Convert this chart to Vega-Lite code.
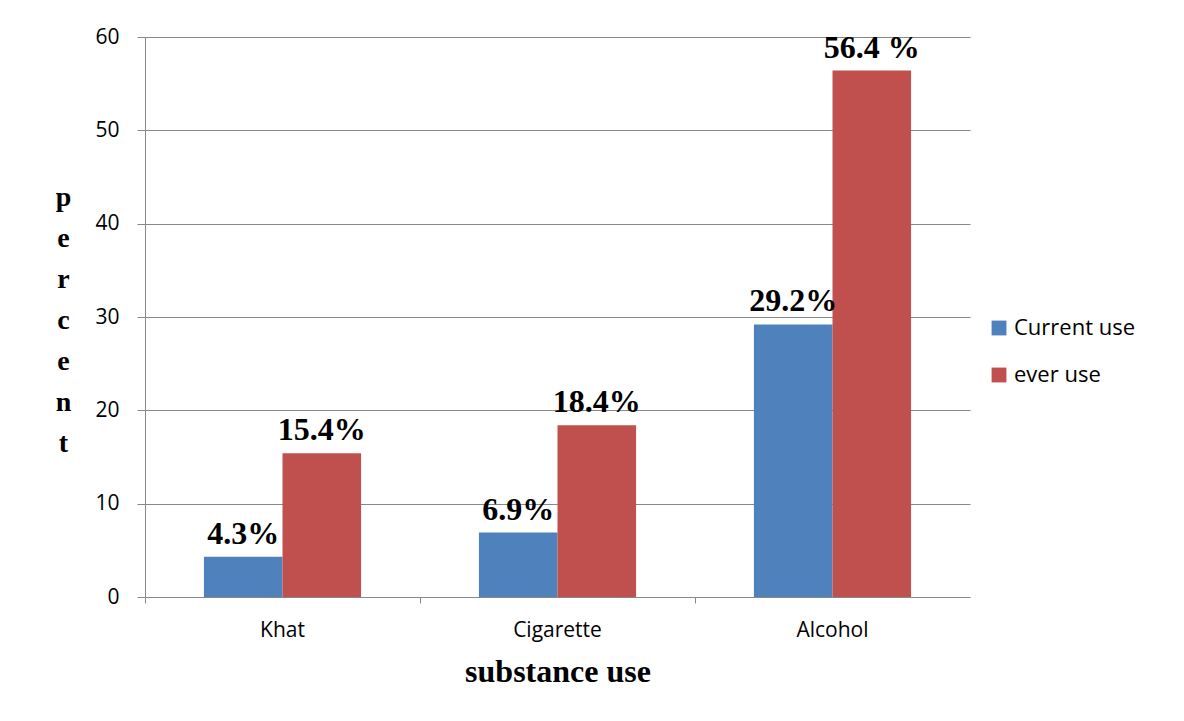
{
  "$schema": "https://vega.github.io/schema/vega-lite/v6.json",
  "autosize": {"type": "none"},
  "width": 825,
  "height": 560,
  "padding": {"left": 145, "top": 37, "right": 214, "bottom": 124},
  "background": "white",
  "data": {
    "values": [
      {"substance": "Khat", "series": "Current use", "value": 4.3, "label": "4.3%"},
      {"substance": "Khat", "series": "ever use", "value": 15.4, "label": "15.4%"},
      {"substance": "Cigarette", "series": "Current use", "value": 6.9, "label": "6.9%"},
      {"substance": "Cigarette", "series": "ever use", "value": 18.4, "label": "18.4%"},
      {"substance": "Alcohol", "series": "Current use", "value": 29.2, "label": "29.2%"},
      {"substance": "Alcohol", "series": "ever use", "value": 56.4, "label": "56.4 %"}
    ]
  },
  "encoding": {
    "x": {
      "field": "substance",
      "type": "nominal",
      "sort": ["Khat", "Cigarette", "Alcohol"],
      "scale": {"paddingInner": 0, "paddingOuter": 0},
      "axis": {
        "title": "substance use",
        "titleFont": "Liberation Serif",
        "titleFontWeight": "bold",
        "titleFontSize": 32,
        "titleColor": "black",
        "titlePadding": 16,
        "labelAngle": 0,
        "labelFont": "Open Sans",
        "labelFontSize": 21,
        "labelColor": "black",
        "labelPadding": 16,
        "bandPosition": 0,
        "tickSize": 6,
        "tickColor": "#888888",
        "domainColor": "#888888",
        "grid": false
      }
    },
    "xOffset": {
      "field": "series",
      "type": "nominal",
      "sort": ["Current use", "ever use"],
      "scale": {"paddingInner": 0, "paddingOuter": 0.75}
    },
    "y": {
      "field": "value",
      "type": "quantitative",
      "scale": {"domain": [0, 60]},
      "axis": {
        "values": [0, 10, 20, 30, 40, 50, 60],
        "title": ["p", "e", "r", "c", "e", "n", "t"],
        "titleAngle": 0,
        "titleFont": "Liberation Serif",
        "titleFontWeight": "bold",
        "titleFontSize": 28,
        "titleColor": "black",
        "titleLineHeight": 41,
        "titleAlign": "center",
        "titleBaseline": "top",
        "titleX": -82,
        "titleY": 146,
        "labelFont": "Open Sans",
        "labelFontSize": 21,
        "labelColor": "black",
        "labelPadding": 18,
        "tickSize": 8,
        "tickColor": "#888888",
        "domainColor": "#888888",
        "grid": true,
        "gridColor": "#888888",
        "gridWidth": 1
      }
    }
  },
  "layer": [
    {
      "mark": {"type": "bar"},
      "encoding": {
        "color": {
          "field": "series",
          "type": "nominal",
          "scale": {"domain": ["Current use", "ever use"], "range": ["#4F81BD", "#C0504D"]},
          "legend": {
            "title": null,
            "orient": "none",
            "legendX": 843,
            "legendY": 280,
            "symbolType": "square",
            "symbolSize": 220,
            "symbolStrokeWidth": 0,
            "labelFont": "Open Sans",
            "labelFontSize": 22,
            "labelColor": "black",
            "rowPadding": 25,
            "labelOffset": 4
          }
        }
      }
    },
    {
      "mark": {
        "type": "text",
        "baseline": "bottom",
        "dy": -6,
        "font": "Liberation Serif",
        "fontWeight": "bold",
        "fontSize": 32,
        "color": "black"
      },
      "encoding": {
        "text": {"field": "label"}
      }
    }
  ],
  "config": {
    "view": {"stroke": null}
  }
}
